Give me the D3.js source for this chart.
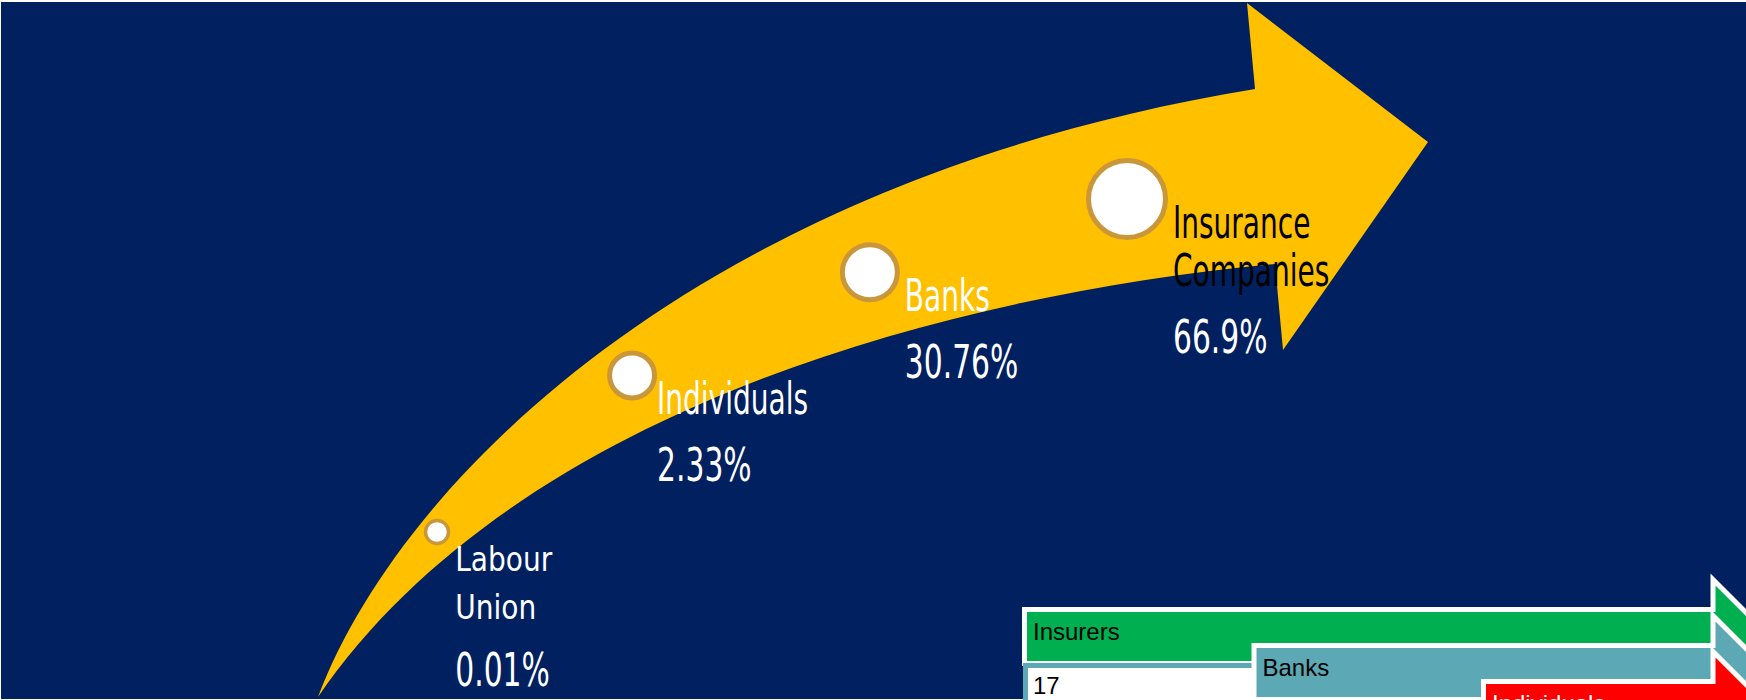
<!DOCTYPE html>
<html><head><meta charset="utf-8">
<script src="https://cdn.jsdelivr.net/npm/d3@7"></script>
<style>html,body{margin:0;padding:0;background:#fff;overflow:hidden}</style>
</head><body>
<script>
// ---- data ----
const categories = ["Labour Union", "Individuals", "Banks", "Insurance Companies"];
const nameLines = [["Labour", "Union"], ["Individuals"], ["Banks"], ["Insurance", "Companies"]];
const shares = [0.01, 2.33, 30.76, 66.9];
const stairLabels = ["Insurers", "Banks", "Individuals"];
const stairValues = ["17"];

// ---- canvas ----
const W = 1746, H = 700;
const svg = d3.select("body").append("svg").attr("width", W).attr("height", H);
svg.append("rect").attr("x", 1).attr("y", 2).attr("width", W - 1).attr("height", 697).attr("fill", "#002060");

// ---- curved arrow ----
const p = d3.path();
p.moveTo(318, 697);
p.bezierCurveTo(400, 480, 700, 180, 1255, 89);
p.lineTo(1247, 3);
p.lineTo(1428, 142);
p.lineTo(1283, 350);
p.lineTo(1275, 264);
p.bezierCurveTo(900, 300, 500, 430, 318, 697);
p.closePath();
svg.append("path").attr("d", p.toString()).attr("fill", "#FFC000");

// ---- scales ----
const idx = d3.range(categories.length);
const xPos = d3.scalePow().exponent(1.15).domain([0, 3]).range([437, 1127]);
const xNorm = d3.scaleLinear().domain([437, 1127]).range([1, 5]);
const yPos = d3.scaleLog().domain([1, 5]).range([532, 199]);
const rScale = d3.scaleOrdinal().domain(categories).range([11.5, 22.5, 27.5, 38.5]);
const swScale = d3.scaleOrdinal().domain(categories).range([3.5, 5, 5, 5]);
const nameVScale = d3.scaleOrdinal().domain(categories).range([0.76, 1, 1, 1]);
const nameColor = d3.scaleOrdinal().domain(categories).range(["#fff", "#fff", "#fff", "#000"]);

const cx = i => xPos(i), cy = i => yPos(xNorm(xPos(i)));

svg.selectAll("circle.pt").data(idx).join("circle").attr("class", "pt")
  .attr("cx", cx).attr("cy", cy)
  .attr("r", i => rScale(categories[i]))
  .attr("fill", "#fff").attr("stroke", "#C9973A")
  .attr("stroke-width", i => swScale(categories[i]));

// horizontal compression for the tall condensed look
const FONT = "'DejaVu Sans', 'DejaVu Sans Condensed', sans-serif";
const probe = svg.append("text").attr("font-family", FONT).style("font-stretch", "condensed")
  .attr("font-size", 45).text("Individuals");
const sx = 151 / probe.node().getComputedTextLength();
probe.remove();
const sxVal = sx * 1.04;

const labelG = svg.selectAll("g.lab").data(idx).join("g").attr("class", "lab");
labelG.each(function (i) {
  const g = d3.select(this);
  const cat = categories[i];
  const x0 = cx(i) + rScale(cat) + swScale(cat) / 2 + 5 - (i === 1 ? 5 : 0);
  const y0 = cy(i) + 39;
  nameLines[i].forEach((ln, k) => {
    g.append("text").attr("transform", `translate(${x0},${y0 + k * 48}) scale(${sx},${nameVScale(cat)})`)
      .attr("font-family", FONT).style("font-stretch", "condensed")
      .attr("font-size", 45).attr("fill", nameColor(cat)).text(ln);
  });
  const yv = y0 + (nameLines[i].length - 1) * 48 + 67;
  g.append("text").attr("transform", `translate(${x0},${yv}) scale(${sxVal},1)`)
    .attr("font-family", FONT).style("font-stretch", "condensed")
    .attr("font-size", 46).attr("fill", "#fff").text(shares[i] + "%");
});

// ---- staircase (partially visible) ----
const stairColors = ["#00B050", "#5CA8B5", "#FF0000"];
const stairText = ["#000", "#000", "#fff"];
const stairX = d3.scaleLinear().domain([0, 2]).range([1024.5, 1483.5]);
const stairY = d3.scaleLinear().domain([0, 2]).range([609.5, 681.5]);
const bodyRight = 1713, bodyH = 54, headExt = 30;
const line = d3.line();
function arrowPts(i) {
  const x0 = stairX(i), y0 = stairY(i);
  return [[x0, y0], [bodyRight, y0], [bodyRight, y0 - headExt],
    [bodyRight + bodyH / 2 + headExt, y0 + bodyH / 2],
    [bodyRight, y0 + bodyH + headExt], [bodyRight, y0 + bodyH], [x0, y0 + bodyH]];
}
const SFONT = "'Liberation Sans', Arial, sans-serif";
function drawStep(i) {
  svg.append("path").attr("d", line(arrowPts(i)) + "Z")
    .attr("fill", stairColors[i]).attr("stroke", "#fff").attr("stroke-width", 5)
    .attr("stroke-linejoin", "miter");
  svg.append("text").attr("x", stairX(i) + 8.5).attr("y", stairY(i) + 30.5)
    .attr("font-family", SFONT).attr("font-size", 24).attr("fill", stairText[i]).text(stairLabels[i]);
}
drawStep(0);
stairValues.forEach((v, i) => {
  svg.append("rect").attr("x", stairX(i) + 1).attr("y", stairY(i) + 56)
    .attr("width", 300).attr("height", 60).attr("fill", "#fff")
    .attr("stroke", stairColors[1]).attr("stroke-width", 5);
  svg.append("text").attr("x", stairX(i) + 8.5).attr("y", stairY(i) + 84.5)
    .attr("font-family", SFONT).attr("font-size", 24).attr("fill", "#000").text(v);
});
drawStep(1);
drawStep(2);
</script>
</body></html>
